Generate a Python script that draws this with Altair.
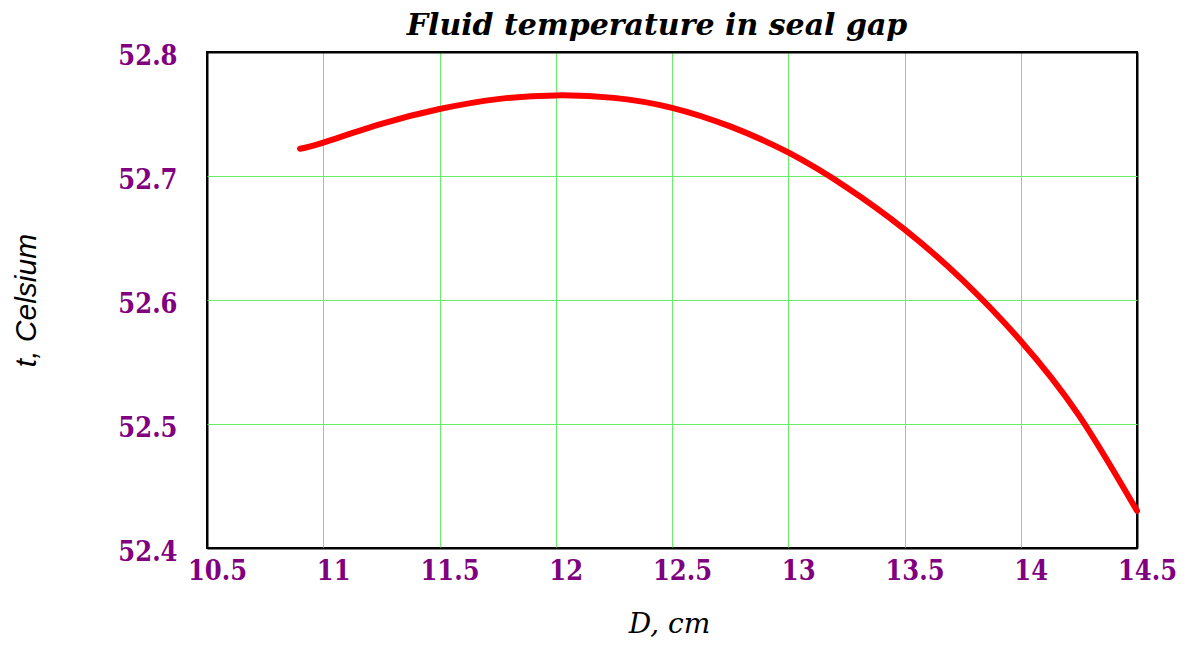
import altair as alt
import pandas as pd

D = [10.9, 11.0, 11.25, 11.5, 11.75, 12.0, 12.25, 12.5, 12.75, 13.0, 13.25, 13.5, 13.75, 14.0, 14.25, 14.5]
T = [52.722, 52.727, 52.742, 52.754, 52.762, 52.765, 52.763, 52.755, 52.740, 52.719, 52.691, 52.657, 52.616, 52.567, 52.507, 52.430]
x_ticks = [10.5, 11, 11.5, 12, 12.5, 13, 13.5, 14, 14.5]
y_ticks = [52.4, 52.5, 52.6, 52.7, 52.8]

df = pd.DataFrame({"D": D, "T": T})

purple = "#800080"
grid = "#66ee66"
label_font = "DejaVu Serif Condensed, DejaVu Serif"

x_edge = "datum.value == 10.5 || datum.value == 14.5"
y_edge = "datum.value == 52.4 || datum.value == 52.8"

chart = alt.Chart(df).mark_line(
    color="#ff0000", strokeWidth=6, strokeCap="round", strokeJoin="round", interpolate="natural"
).encode(
    x=alt.X("D:Q", scale=alt.Scale(domain=[10.5, 14.5], nice=False, zero=False),
            axis=alt.Axis(values=x_ticks, format="~g", title="D, cm",
                          grid=True,
                          gridColor={"condition": {"test": x_edge, "value": "black"}, "value": grid},
                          gridWidth={"condition": {"test": x_edge, "value": 2}, "value": 1},
                          domain=False, ticks=False,
                          labelFont=label_font, labelFontWeight="bold", labelFontSize=27,
                          labelColor=purple, labelPadding=10, labelBaseline="top",
                          labelFlush=False, labelOffset=10,
                          titleFont="DejaVu Serif", titleFontStyle="italic", titleFontWeight="normal",
                          titleFontSize=28, titleColor="black", titleX=462, titleY=84,
                          titleBaseline="alphabetic", titleAlign="center")),
    y=alt.Y("T:Q", scale=alt.Scale(domain=[52.4, 52.8], nice=False, zero=False),
            axis=alt.Axis(values=y_ticks, format=".1f", title="t, Celsium",
                          grid=True,
                          gridColor={"condition": {"test": y_edge, "value": "black"}, "value": grid},
                          gridWidth={"condition": {"test": y_edge, "value": 2}, "value": 1},
                          domain=False, ticks=False,
                          labelFont=label_font, labelFontWeight="bold", labelFontSize=27,
                          labelColor=purple, labelPadding=30, labelOffset=4, labelFlush=False,
                          titleFont="Liberation Sans", titleFontStyle="italic", titleFontWeight="normal",
                          titleFontSize=30, titleColor="black", titleAngle=-90, titleX=-172, titleY=248,
                          titleBaseline="alphabetic", titleAlign="center")),
).properties(
    width=930, height=496,
    title=alt.TitleParams("Fluid temperature in seal gap", font="DejaVu Serif", fontStyle="italic",
                          fontWeight="bold", fontSize=30, color="black", anchor="middle",
                          baseline="alphabetic", offset=-23, dx=-15),
    padding={"left": 199, "top": 44, "right": 43, "bottom": 91},
    autosize=alt.AutoSizeParams(type="none"),
    background="white",
).configure_view(stroke="black", strokeWidth=2)

chart.save("out.html", embed_options={"renderer": "svg", "actions": False})
